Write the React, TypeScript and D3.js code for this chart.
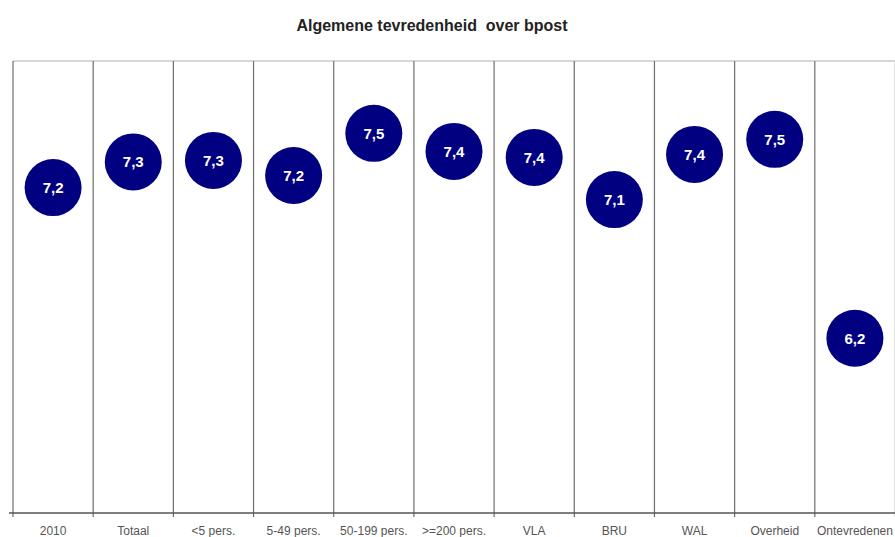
import React from "react";
import * as d3 from "d3";

const categories = ["2010", "Totaal", "<5 pers.", "5-49 pers.", "50-199 pers.", ">=200 pers.", "VLA", "BRU", "WAL", "Overheid", "Ontevredenen"];
const values = [7.16, 7.33, 7.34, 7.24, 7.52, 7.4, 7.36, 7.08, 7.38, 7.48, 6.16];
const yDomain = [5, 8];
const title = "Algemene tevredenheid  over bpost";

const W = 895;
const H = 537;
const M = { left: 13, right: 895, top: 61, bottom: 513 };

export default function App() {
  const x = d3.scaleBand<string>().domain(categories).range([M.left, M.right]).padding(0);
  const y = d3.scaleLinear().domain(yDomain).range([M.bottom, M.top]);
  const bw = x.bandwidth();
  const fmt = (v: number) => v.toFixed(1).replace(".", ",");
  const bounds = categories.map((c) => x(c) as number).concat([M.right]);

  return (
    <div style={{ position: "fixed", left: 0, top: 0, width: W, height: H, background: "#fff" }}>
      <svg width={W} height={H} style={{ display: "block", fontFamily: "Liberation Sans, Arial, sans-serif" }}>
        <rect x={0} y={0} width={W} height={H} fill="#fff" />
        <text x={432} y={31} textAnchor="middle" fontSize={16} fontWeight="bold" fill="#222" style={{ whiteSpace: "pre" }}>
          {title}
        </text>
        {/* top border */}
        <line x1={M.left} x2={M.right} y1={M.top} y2={M.top} stroke="#b0b0b0" strokeWidth={1.2} />
        {/* vertical dividers */}
        {bounds.map((bx, i) => (
          <line key={"v" + i} x1={bx} x2={bx} y1={M.top} y2={M.bottom + 4} stroke={i === bounds.length - 1 ? "#d0d0d0" : "#6e6e6e"} strokeWidth={1.2} />
        ))}
        {/* bottom axis */}
        <line x1={M.left - 4} x2={M.right} y1={M.bottom} y2={M.bottom} stroke="#555" strokeWidth={1.4} />
        {categories.map((c) => (
          <text key={"l" + c} x={(x(c) as number) + bw / 2} y={535} textAnchor="middle" fontSize={12} fill="#555">
            {c}
          </text>
        ))}
        {categories.map((c, i) => (
          <g key={"p" + c} transform={`translate(${(x(c) as number) + bw / 2},${y(values[i])})`}>
            <circle r={28.5} fill="#000080" />
            <text y={5.5} textAnchor="middle" fontSize={15} fontWeight="bold" fill="#fff">
              {fmt(values[i])}
            </text>
          </g>
        ))}
      </svg>
    </div>
  );
}
